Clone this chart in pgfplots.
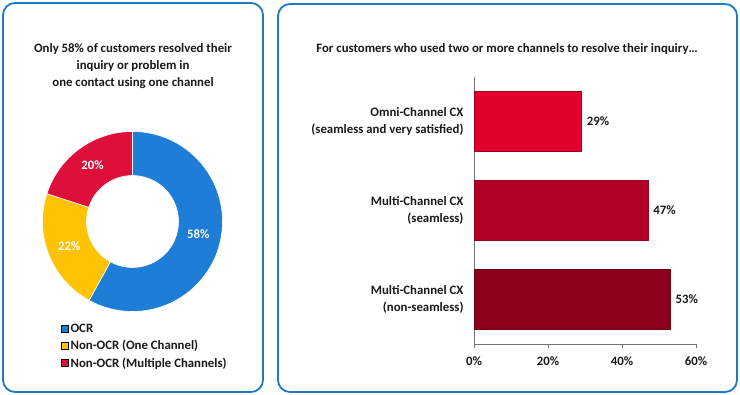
\documentclass[border=0pt]{standalone}
\usepackage{pgfplots}
\pgfplotsset{compat=1.18}
\usepackage{pgfplotstable}
\usepackage{fontspec}
\setmainfont{Carlito}
\pgfkeys{/pgf/number format/assume math mode=true}

\definecolor{frameblue}{HTML}{1C7AC6}
\definecolor{ocr}{HTML}{1E7DD6}
\definecolor{onech}{HTML}{FFC303}
\definecolor{multich}{HTML}{DE0F3B}
\definecolor{barA}{HTML}{E2002C}
\definecolor{barB}{HTML}{B30027}
\definecolor{barC}{HTML}{8C001D}
\definecolor{txt}{HTML}{1A1A1A}

\pgfplotstableread{
part share
OCR 58
OneChannel 22
MultipleChannels 20
}\donutdata

\newcommand{\fs}{\fontsize{12.8bp}{17bp}\selectfont\bfseries}

\begin{document}
\begin{tikzpicture}
\path[use as bounding box] (0,0) rectangle (740bp,395bp);
\fill[white] (0,0) rectangle (740bp,395bp);
% panels
\draw[frameblue, line width=1.8bp, rounded corners=12bp] (3bp,3bp) rectangle (263bp,392bp);
\draw[frameblue, line width=1.8bp, rounded corners=12bp] (278bp,3bp) rectangle (737bp,391bp);

% titles
\node[txt, align=center, font=\fs] at (133bp,329bp) {Only 58\% of customers resolved their\\inquiry or problem in\\one contact using one channel};
\node[txt, font=\fs] at (507bp,346bp) {For customers who used two or more channels to resolve their inquiry\ldots};

% donut angles from the data
\pgfplotstablegetelem{0}{share}\of\donutdata \edef\sA{\pgfplotsretval}
\pgfplotstablegetelem{1}{share}\of\donutdata \edef\sB{\pgfplotsretval}
\pgfplotstablegetelem{2}{share}\of\donutdata \edef\sC{\pgfplotsretval}
\pgfmathsetmacro{\aA}{90}
\pgfmathsetmacro{\aB}{\aA-3.6*\sA}
\pgfmathsetmacro{\aC}{\aB-3.6*\sB}
\pgfmathsetmacro{\aD}{\aC-3.6*\sC}
\pgfmathsetmacro{\mA}{(\aA+\aB)/2}
\pgfmathsetmacro{\mB}{(\aB+\aC)/2}
\pgfmathsetmacro{\mC}{(\aC+\aD)/2}

\begin{axis}[
  at={(132.5bp,173.5bp)}, anchor=center,
  scale only axis, width=200bp, height=200bp,
  xmin=-100, xmax=100, ymin=-100, ymax=100,
  hide axis, clip=false,
  legend style={at={(0.1425,0.0)}, anchor=north west, draw=none, fill=none,
    font=\fs, text=txt, row sep=2.5bp, inner sep=0pt,
    /tikz/every even column/.append style={column sep=1bp}},
  legend cell align=left,
  legend image code/.code={\fill[#1] (0bp,-3.5bp) rectangle (7bp,3.5bp);},
]
\addlegendimage{fill=ocr}\addlegendentry{OCR}
\addlegendimage{fill=onech}\addlegendentry{Non-OCR (One Channel)}
\addlegendimage{fill=multich}\addlegendentry{Non-OCR (Multiple Channels)}
\fill[ocr, draw=white, line width=0.6bp] (axis cs:{90*cos(\aA)},{90*sin(\aA)}) arc[start angle=\aA, end angle=\aB, radius=90bp] -- (axis cs:{46*cos(\aB)},{46*sin(\aB)}) arc[start angle=\aB, end angle=\aA, radius=46bp] -- cycle;
\fill[onech, draw=white, line width=0.6bp] (axis cs:{90*cos(\aB)},{90*sin(\aB)}) arc[start angle=\aB, end angle=\aC, radius=90bp] -- (axis cs:{46*cos(\aC)},{46*sin(\aC)}) arc[start angle=\aC, end angle=\aB, radius=46bp] -- cycle;
\fill[multich, draw=white, line width=0.6bp] (axis cs:{90*cos(\aC)},{90*sin(\aC)}) arc[start angle=\aC, end angle=\aD, radius=90bp] -- (axis cs:{46*cos(\aD)},{46*sin(\aD)}) arc[start angle=\aD, end angle=\aC, radius=46bp] -- cycle;
\node[white, font=\fs] at (axis cs:{68*cos(\mA)},{68*sin(\mA)+4}) {\pgfmathprintnumber{\sA}\%};
\node[white, font=\fs] at (axis cs:{68*cos(\mB)},{68*sin(\mB)}) {\pgfmathprintnumber{\sB}\%};
\node[white, font=\fs] at (axis cs:{68*cos(\mC)},{68*sin(\mC)+1}) {\pgfmathprintnumber{\sC}\%};
\end{axis}

% bar chart
\begin{axis}[
  at={(474bp,51bp)}, anchor=south west,
  scale only axis, width=222bp, height=267bp,
  xbar, bar width=60bp, bar shift=0pt,
  xmin=0, xmax=60, ymin=-0.5, ymax=2.5,
  axis x line*=bottom, axis y line*=left,
  axis line style={draw=gray!90!black, line width=0.8bp, -},
  xtick={0,20,40,60},
  xticklabel={\pgfmathprintnumber{\tick}\%},
  xtick style={draw=gray!90!black, line width=0.8bp},
  xtick pos=bottom, tick align=outside, major tick length=4bp,
  ytick={0,1,2}, ytick style={draw=none},
  yticklabels={{Multi-Channel CX\\(non-seamless)},{Multi-Channel CX\\(seamless)},{Omni-Channel CX\\(seamless and very satisfied)}},
  yticklabel style={align=right, font=\fs, text=txt, xshift=-3bp},
  xticklabel style={font=\fs, text=txt, yshift=-5bp},
  nodes near coords={\pgfmathprintnumber{\pgfplotspointmeta}\%},
  nodes near coords align=horizontal,
  every node near coord/.append style={font=\fs, text=txt, anchor=west, xshift=2bp},
  clip=false,
]
\addplot[fill=barC, draw=barC!80!black, line width=0.5bp] coordinates {(53,0)};
\addplot[fill=barB, draw=barB!80!black, line width=0.5bp] coordinates {(47,1)};
\addplot[fill=barA, draw=barA!70!black, line width=0.5bp] coordinates {(29,2)};
\end{axis}
\end{tikzpicture}
\end{document}
